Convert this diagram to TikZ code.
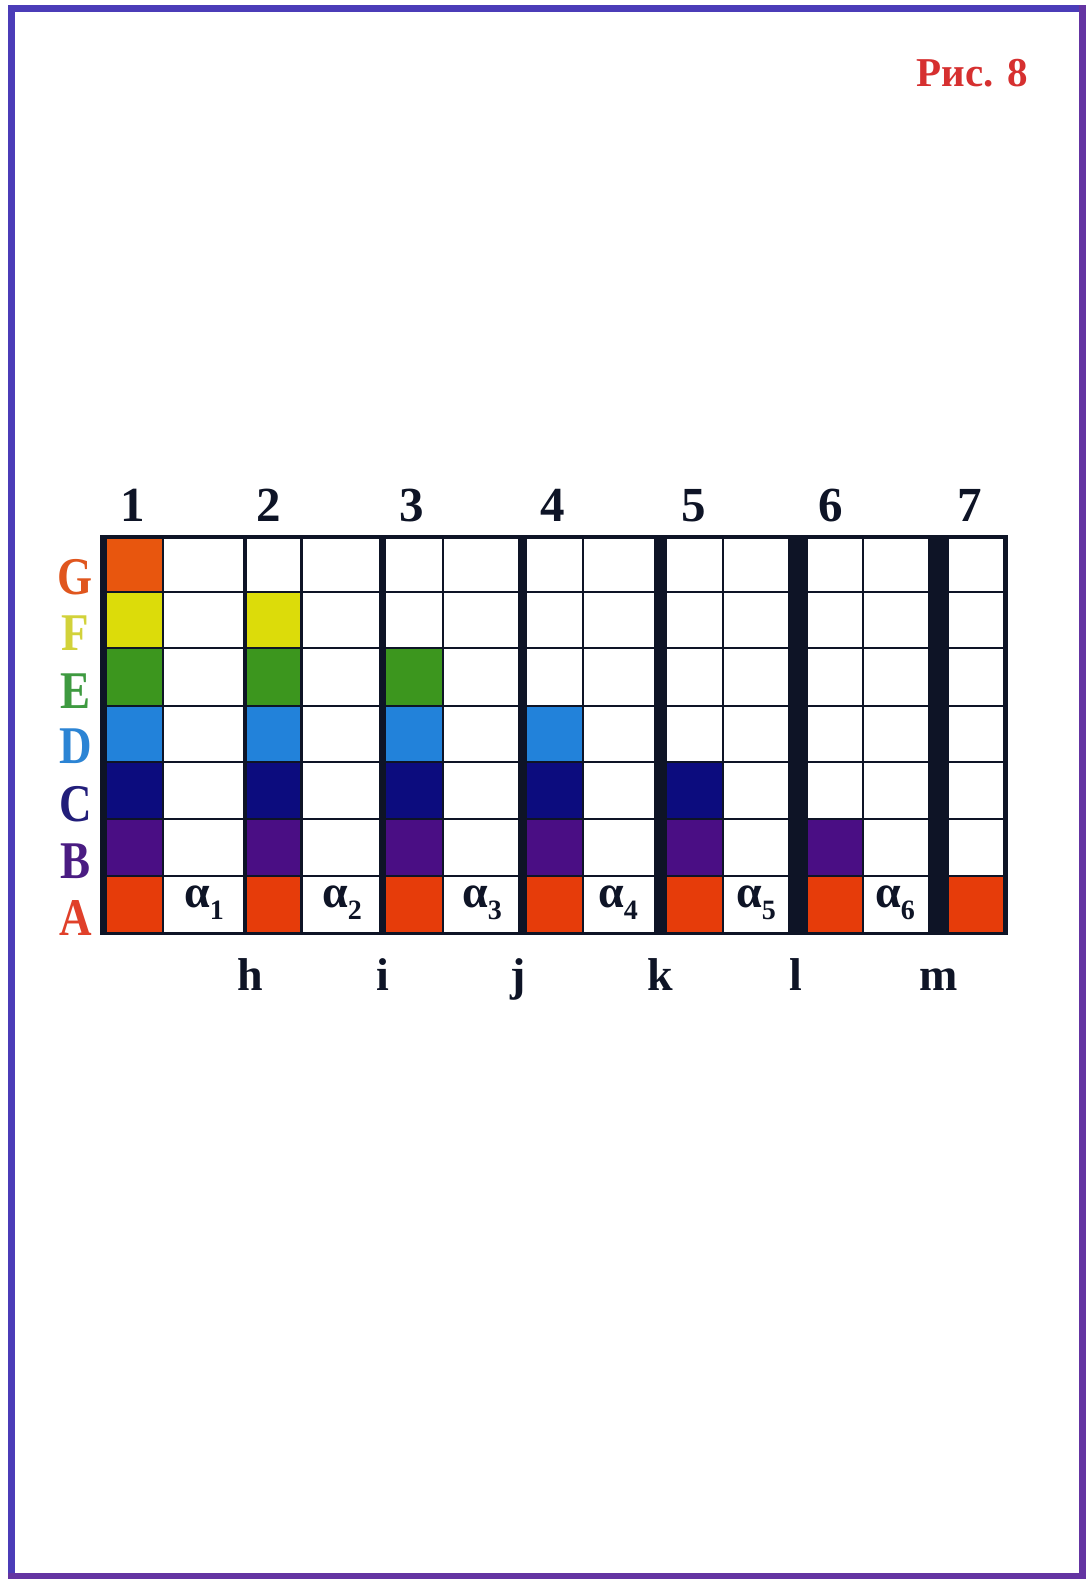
\documentclass[tikz,border=0pt]{standalone}
\usepackage{fontspec}
\setmainfont{Liberation Serif}
\definecolor{gridc}{HTML}{0E1426}
\definecolor{cG}{HTML}{E8560E}
\definecolor{cF}{HTML}{DCDC0A}
\definecolor{cE}{HTML}{3C961E}
\definecolor{cD}{HTML}{2282DA}
\definecolor{cC}{HTML}{0C0C7E}
\definecolor{cB}{HTML}{4A0E84}
\definecolor{cA}{HTML}{E63C0A}
\definecolor{lG}{HTML}{E0561E}
\definecolor{lF}{HTML}{D2D23A}
\definecolor{lE}{HTML}{3E9A40}
\definecolor{lD}{HTML}{2C84D4}
\definecolor{lC}{HTML}{221E7A}
\definecolor{lB}{HTML}{4A1C82}
\definecolor{lA}{HTML}{E0402A}
\definecolor{titlec}{HTML}{D63030}
\definecolor{frameA}{HTML}{4B3CB8}
\definecolor{frameB}{HTML}{6434A2}
\begin{document}
\begin{tikzpicture}[x=1pt,y=-1pt,
  digit/.style={anchor=base,inner sep=0pt,text=gridc,font=\fontsize{49}{49}\selectfont\bfseries},
  rowlab/.style={anchor=base,inner sep=0pt,xscale=0.85,font=\fontsize{53}{53}\selectfont\bfseries},
  botlab/.style={anchor=base,inner sep=0pt,text=gridc,font=\fontsize{46}{46}\selectfont\bfseries},
  alab/.style={anchor=base,inner sep=0pt,text=gridc,font=\fontsize{46}{46}\selectfont\bfseries},
  thinline/.style={gridc,line width=2.2pt},
  framedge/.style={line width=7pt,line cap=rect}]
\useasboundingbox (0,0) rectangle (1088,1579);
\fill[white] (0,0) rectangle (1088,1579);
% frame
\draw[framedge,frameA] (11.5,1576) -- (11.5,8.5) -- (1082,8.5);
\draw[framedge,frameB] (1082,8.5) -- (1082,1576) -- (11.5,1576);
% title
\node[anchor=base,inner sep=0pt,text=titlec,font=\fontsize{41}{41}\selectfont\bfseries] (title) at (972,86) {Рис. 8};
% coloured cells
\foreach \xa/\xb/\n in {107/162/7, 247/300/6, 386/442/5, 527/582/4, 667/722/3, 808/862/2, 949/1003/1}{
  \foreach \r/\ya/\yb/\col in {1/876/932/cA, 2/819/876/cB, 3/762/819/cC, 4/706/762/cD, 5/648/706/cE, 6/592/648/cF, 7/538/592/cG}{
    \ifnum\r>\n\else \fill[\col] (\xa,\ya) rectangle (\xb,\yb);\fi
  }
}
% grid lines
\foreach \y in {592,648,706,762,819,876} \draw[thinline] (100,\y) -- (1008,\y);
\foreach \x in {163,301.5,443,583,723,863} \draw[thinline] (\x,535) -- (\x,935);
\fill[gridc] (100,535) rectangle (1008,538.5);
\fill[gridc] (100,931.5) rectangle (1008,935);
\foreach \xa/\xb in {100/107, 243/247, 379/386, 518/527, 654/667, 788/808, 928/949, 1003/1008}
  \fill[gridc] (\xa,535) rectangle (\xb,935);
% column numbers
\node[digit] (n1) at (133,521) {1};
\node[digit] (n2) at (269,521) {2};
\node[digit] (n3) at (412,521) {3};
\node[digit] (n4) at (553,521) {4};
\node[digit] (n5) at (694,521) {5};
\node[digit] (n6) at (831,521) {6};
\node[digit] (n7) at (970,521) {7};
% row letters
\node[rowlab,text=lG] (rG) at (75.5,594) {G};
\node[rowlab,text=lF] (rF) at (75.5,650) {F};
\node[rowlab,text=lE] (rE) at (75.5,708) {E};
\node[rowlab,text=lD] (rD) at (75.5,763) {D};
\node[rowlab,text=lC] (rC) at (75.5,821) {C};
\node[rowlab,text=lB] (rB) at (75.5,878) {B};
\node[rowlab,text=lA] (rA) at (75.5,935) {A};
% alpha labels
\foreach \i/\x in {1/204, 2/342, 3/482, 4/618, 5/756, 6/895}
  \node[alab] (a\i) at (\x,907) {α\raisebox{-0.28em}{\fontsize{28}{28}\selectfont\bfseries\i}};
% bottom letters
\node[botlab] (bh) at (250,990) {h};
\node[botlab] (bi) at (382.5,990) {i};
\node[botlab] (bj) at (518.5,990) {j};
\node[botlab] (bk) at (660.5,990) {k};
\node[botlab] (bl) at (796,990) {l};
\node[botlab] (bm) at (938.5,990) {m};
\end{tikzpicture}
\end{document}
